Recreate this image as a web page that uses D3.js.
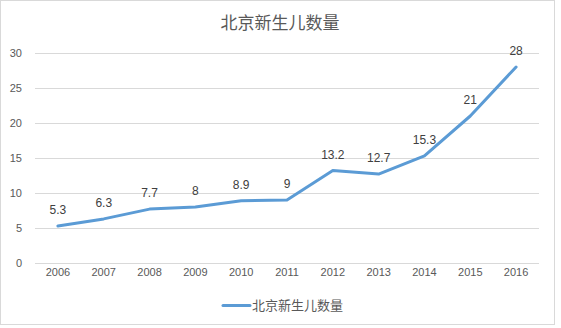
<!DOCTYPE html>
<html>
<head>
<meta charset="utf-8">
<script src="https://cdn.jsdelivr.net/npm/d3@7"></script>
<style>
  html, body { margin: 0; padding: 0; background: #fff; }
  svg { display: block; font-family: "Noto Sans CJK SC", "Liberation Sans", sans-serif; }
</style>
</head>
<body>
<svg id="chart" width="561" height="328"></svg>
<script>
// Newborns in Beijing (10k), 2006–2016
const years = ["2006", "2007", "2008", "2009", "2010", "2011", "2012", "2013", "2014", "2015", "2016"];
const births = [5.3, 6.3, 7.7, 8, 8.9, 9, 13.2, 12.7, 15.3, 21, 28];
const yTicks = [0, 5, 10, 15, 20, 25, 30];
const seriesName = "北京新生儿数量";
const title = "北京新生儿数量";

const svg = d3.select("#chart");

// chart frame
svg.append("rect")
  .attr("x", 0.5).attr("y", 0.5)
  .attr("width", 554).attr("height", 324)
  .attr("fill", "#fff").attr("stroke", "#d9d9d9");

const x = d3.scaleBand().domain(years).range([35, 539]);
const y = d3.scaleLinear().domain([0, 30]).range([263, 53]);

// horizontal gridlines
svg.append("g").selectAll("line")
  .data(yTicks)
  .join("line")
  .attr("x1", 35).attr("x2", 539)
  .attr("y1", d => Math.round(y(d)) + 0.5)
  .attr("y2", d => Math.round(y(d)) + 0.5)
  .attr("stroke", "#d9d9d9").attr("stroke-width", 1);

// y axis labels
const yAxis = d3.axisLeft(y).tickValues(yTicks).tickSize(0).tickPadding(0);
const gy = svg.append("g").attr("transform", "translate(22,0)").call(yAxis);
gy.select(".domain").remove();
gy.selectAll("text")
  .attr("fill", "#595959")
  .style("font-family", "Liberation Sans, Arial, sans-serif")
  .style("font-size", "11px")
  .attr("text-anchor", "end");

// x axis labels
const xAxis = d3.axisBottom(x).tickSize(0).tickPadding(0);
const gx = svg.append("g").attr("transform", "translate(0,268)").call(xAxis);
gx.select(".domain").remove();
gx.selectAll("text")
  .attr("fill", "#595959")
  .style("font-family", "Liberation Sans, Arial, sans-serif")
  .style("font-size", "11px");

// series line
const line = d3.line()
  .x((d, i) => x(years[i]) + x.bandwidth() / 2)
  .y(d => y(d));

svg.append("path")
  .datum(births)
  .attr("d", line)
  .attr("fill", "none")
  .attr("stroke", "#5b9bd5")
  .attr("stroke-width", 3)
  .attr("stroke-linejoin", "round")
  .attr("stroke-linecap", "round");

// data labels
svg.append("g").selectAll("text")
  .data(births)
  .join("text")
  .attr("x", (d, i) => x(years[i]) + x.bandwidth() / 2)
  .attr("y", d => y(d) - 12)
  .attr("text-anchor", "middle")
  .attr("fill", "#404040")
  .style("font-family", "Liberation Sans, Arial, sans-serif")
  .style("font-size", "12px")
  .text(d => d);

// title
svg.append("text")
  .attr("x", 280).attr("y", 29)
  .attr("text-anchor", "middle")
  .attr("fill", "#595959")
  .style("font-size", "17px")
  .text(title);

// legend
const lg = svg.append("g");
lg.append("line")
  .attr("x1", 223).attr("x2", 250)
  .attr("y1", 305.5).attr("y2", 305.5)
  .attr("stroke", "#5b9bd5").attr("stroke-width", 3)
  .attr("stroke-linecap", "round");
lg.append("text")
  .attr("x", 252).attr("y", 310)
  .attr("fill", "#595959")
  .style("font-size", "13px")
  .text(seriesName);
</script>
</body>
</html>
